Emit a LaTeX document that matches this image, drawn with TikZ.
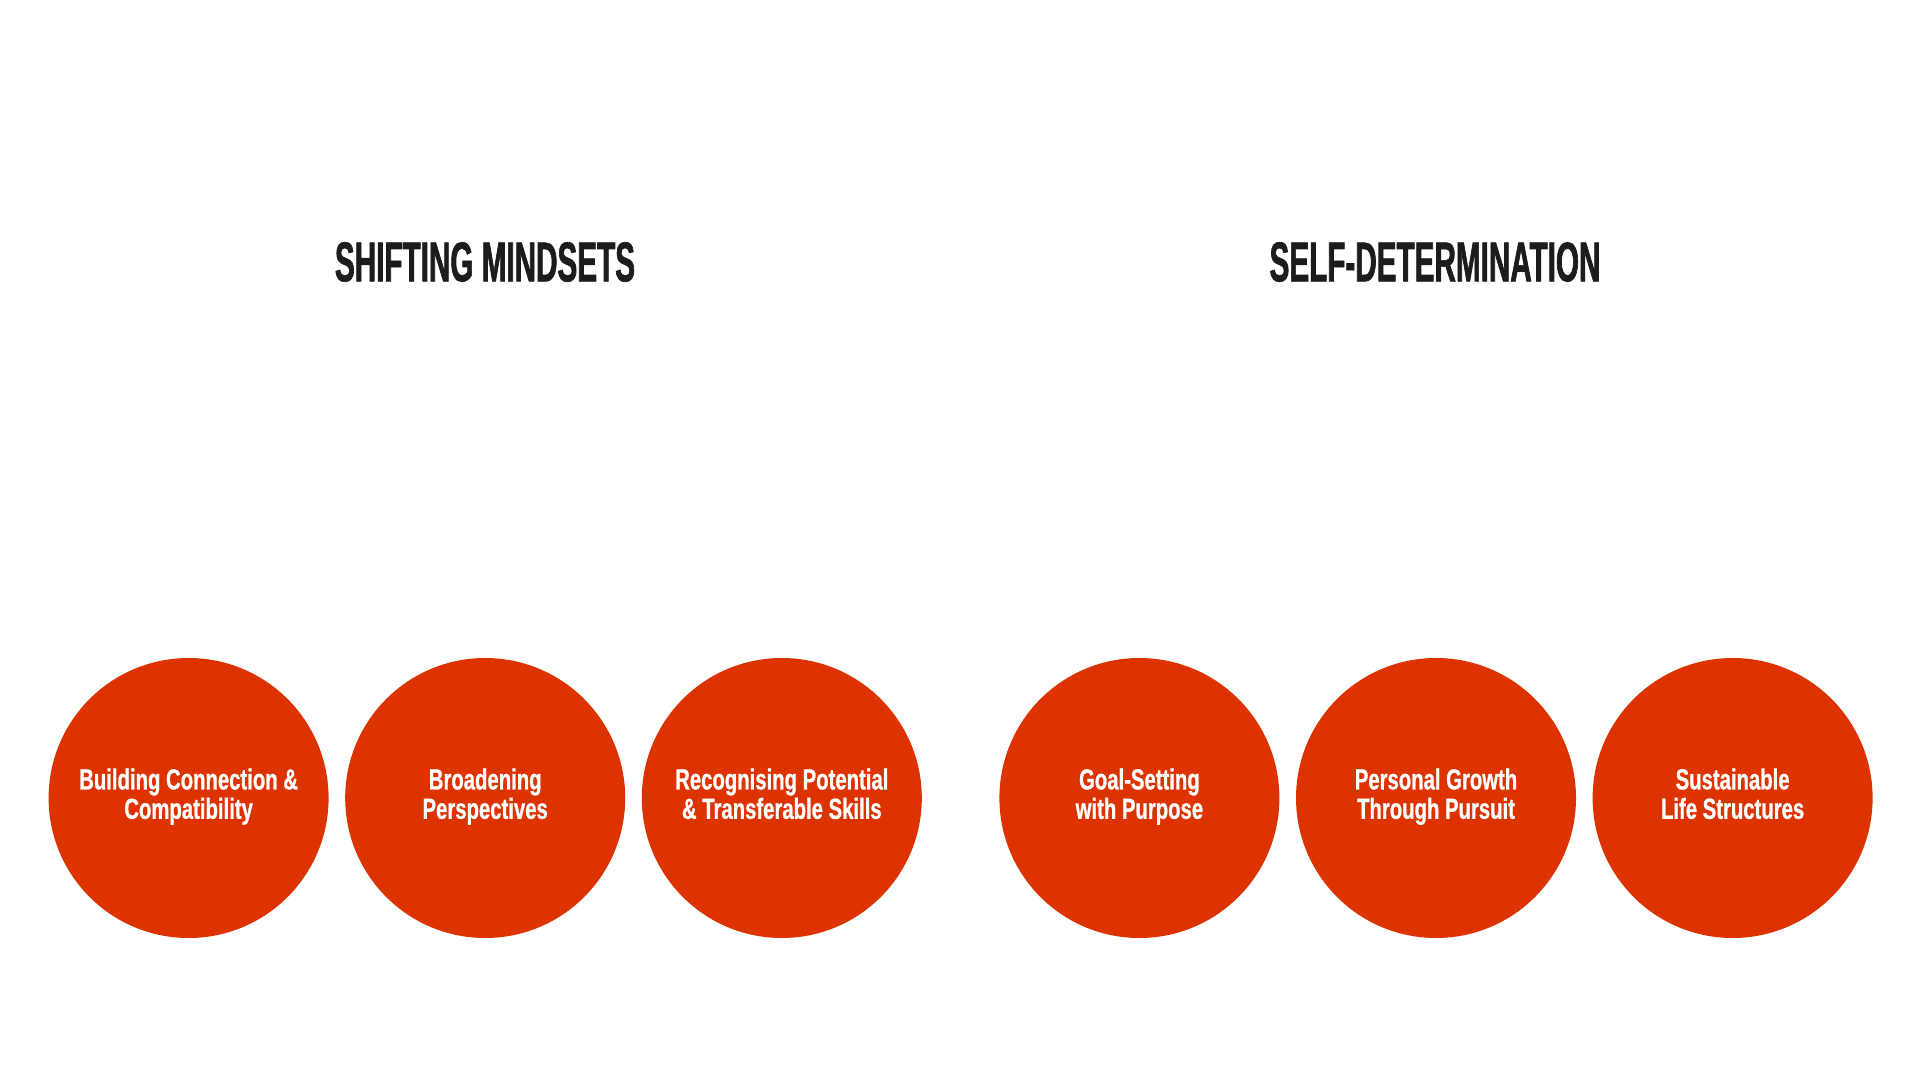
\documentclass[tikz,border=0pt]{standalone}
\usepackage{fontspec}
\newfontfamily\condfont[FakeStretch=0.70,FakeBold=0.8]{Liberation Sans}
\newfontfamily\headfont[FakeStretch=0.53,FakeBold=1.2]{Liberation Sans}
\usetikzlibrary{positioning}

\definecolor{pillred}{HTML}{DC3300}
\definecolor{inkdark}{HTML}{1C1C1C}

\begin{document}
\begin{tikzpicture}[
    x=0.5pt, y=-0.5pt,
    node distance=0pt and 8.3pt,
    topic/.style={circle, fill=pillred, minimum size=140pt, inner sep=0pt, outer sep=0pt,
        text=white, align=center, font=\condfont\bfseries\fontsize{14.5}{14.7}\selectfont,
        execute at begin node=\strut, execute at end node=\strut},
    heading/.style={text=inkdark, inner sep=0pt, font=\headfont\bfseries\fontsize{28}{30}\selectfont}
]
    \useasboundingbox (0,0) rectangle (1920,1080);

    % shifting mindsets
    \node[topic] (a) at (188.6,798) {Building Connection \&\\Compatibility};
    \node[topic, right=of a] (b) {Broadening\\Perspectives};
    \node[topic, right=of b] (c) {Recognising Potential\\\& Transferable Skills};

    % self-determination
    \node[topic, right=38.8pt of c] (d) {Goal-Setting\\with Purpose};
    \node[topic, right=of d] (e) {Personal Growth\\Through Pursuit};
    \node[topic, right=of e] (f) {Sustainable\\Life Structures};

    \node[heading] (h1) at (485,262) {SHIFTING MINDSETS};
    \node[heading] (h2) at (1435,262) {SELF-DETERMINATION};
\end{tikzpicture}
\end{document}
